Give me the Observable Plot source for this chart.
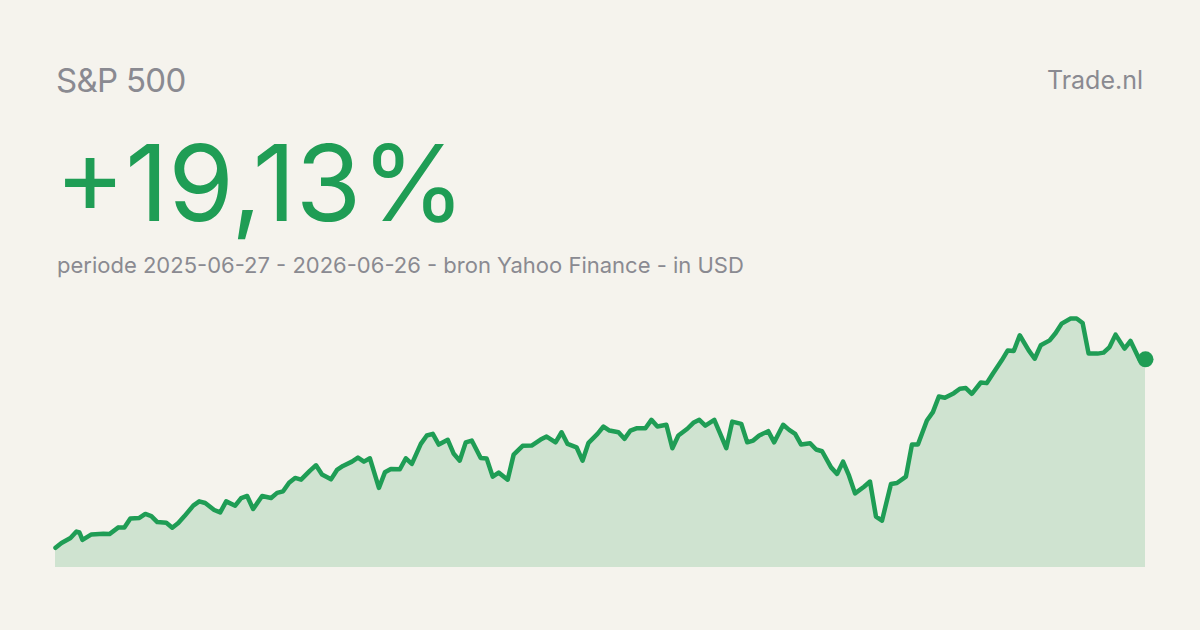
<!DOCTYPE html>
<html>
<head>
<meta charset="utf-8">
<script src="https://cdn.jsdelivr.net/npm/d3@7"></script>
<script src="https://cdn.jsdelivr.net/npm/@observablehq/plot@0.6"></script>
<style>
  html, body { margin: 0; padding: 0; background: #f5f3ed; }
  #card { position: relative; width: 1200px; height: 630px; background: #f5f3ed; overflow: hidden; font-family: Inter, "Noto Sans", sans-serif; }
  .t { position: absolute; line-height: 1; white-space: nowrap; }
  #title { left: 56px; top: 64px; font-size: 33px; color: #8a8a91; letter-spacing: -0.7px; }
  #brand { right: 57px; top: 68px; font-size: 25px; color: #8a8a91; }
  #big { left: 55px; top: 130px; font-size: 106px; color: #1f9d55; letter-spacing: 0px; }
  #sub { left: 57px; top: 254px; font-size: 22px; color: #8a8a91; }
  #chart { position: absolute; left: 0; top: 300px; }
</style>
</head>
<body>
<div id="card">
  <div class="t" id="title">S&amp;P 500</div>
  <div class="t" id="brand">Trade.nl</div>
  <div class="t" id="big">+19,13%</div>
  <div class="t" id="sub">periode 2025-06-27 - 2026-06-26 - bron Yahoo Finance - in USD</div>
  <div id="chart"></div>
</div>
<script>
// Days since 2025-06-27 (start of the period)
const dayOffsets = [
  0, 2, 5, 7, 8, 9, 12, 16, 18, 21, 23, 25, 28, 30, 32, 34, 37, 39, 41, 43,
  46, 48, 50, 53, 55, 57, 60, 62, 64, 66, 69, 72, 74, 76, 78, 80, 82, 85, 87, 89,
  92, 94, 96, 99, 101, 103, 105, 108, 110, 112, 115, 117, 119, 122, 124, 126, 128, 131, 133, 135,
  137, 139, 142, 144, 146, 148, 151, 153, 156, 159, 162, 164, 167, 169, 171, 174, 176, 178, 181, 183,
  185, 188, 190, 192, 194, 197, 199, 201, 204, 206, 208, 211, 213, 215, 217, 220, 222, 224, 226, 229,
  231, 233, 235, 238, 240, 243, 245, 247, 249, 252, 254, 256, 259, 261, 263, 265, 267, 270, 272, 274,
  276, 279, 281, 284, 286, 288, 291, 293, 295, 297, 300, 302, 304, 306, 309, 311, 313, 316, 318, 320,
  322, 325, 327, 329, 332, 334, 336, 339, 341, 343, 345, 348, 350, 352, 354, 357, 359, 362, 364
];
// Closing values (USD)
const closes = [
  6173, 6203, 6234, 6275, 6269, 6223, 6257, 6261, 6259, 6301, 6300, 6357, 6360, 6385, 6372, 6334, 6330, 6299, 6328, 6370,
  6437, 6464, 6454, 6410, 6395, 6464, 6437, 6485, 6498, 6416, 6498, 6485, 6517, 6527, 6581, 6611, 6600, 6657, 6690, 6632,
  6602, 6661, 6686, 6713, 6738, 6713, 6734, 6548, 6646, 6667, 6665, 6734, 6699, 6824, 6877, 6887, 6820, 6850, 6762, 6719,
  6834, 6845, 6736, 6732, 6619, 6644, 6600, 6757, 6812, 6814, 6851, 6870, 6834, 6897, 6824, 6803, 6719, 6831, 6887, 6933,
  6908, 6897, 6856, 6908, 6922, 6922, 6975, 6933, 6944, 6797, 6877, 6919, 6956, 6975, 6939, 6975, 6887, 6797, 6964, 6950,
  6834, 6845, 6877, 6904, 6834, 6944, 6912, 6887, 6820, 6828, 6789, 6778, 6677, 6636, 6713, 6625, 6514, 6556, 6588, 6368,
  6343, 6573, 6579, 6619, 6820, 6820, 6971, 7023, 7121, 7113, 7142, 7170, 7174, 7138, 7209, 7205, 7264, 7348, 7410, 7406,
  7505, 7410, 7358, 7442, 7473, 7519, 7578, 7610, 7610, 7582, 7390, 7390, 7396, 7431, 7509, 7421, 7469, 7352, 7354
];

const start = Date.UTC(2025, 5, 27);
const data = dayOffsets.map((d, i) => ({ date: new Date(start + d * 864e5), close: closes[i] }));
const minV = d3.min(closes), maxV = d3.max(closes);
const base = minV * 0.98;
const last = data[data.length - 1];

const green = "#1f9d55";
const chart = Plot.plot({
  width: 1200,
  height: 270,
  marginLeft: 55,
  marginRight: 55,
  marginTop: 18,
  marginBottom: 3,
  style: { background: "transparent", overflow: "visible" },
  x: { type: "utc", axis: null },
  y: { axis: null, domain: [base, maxV] },
  marks: [
    Plot.areaY(data, { x: "date", y1: base, y2: "close", fill: "#cfe3d0" }),
    Plot.lineY(data, { x: "date", y: "close", stroke: green, strokeWidth: 4.5, strokeLinejoin: "round", strokeLinecap: "round" }),
    Plot.dot([last], { x: "date", y: "close", r: 8, fill: green })
  ]
});
document.getElementById("chart").appendChild(chart);
</script>
</body>
</html>
